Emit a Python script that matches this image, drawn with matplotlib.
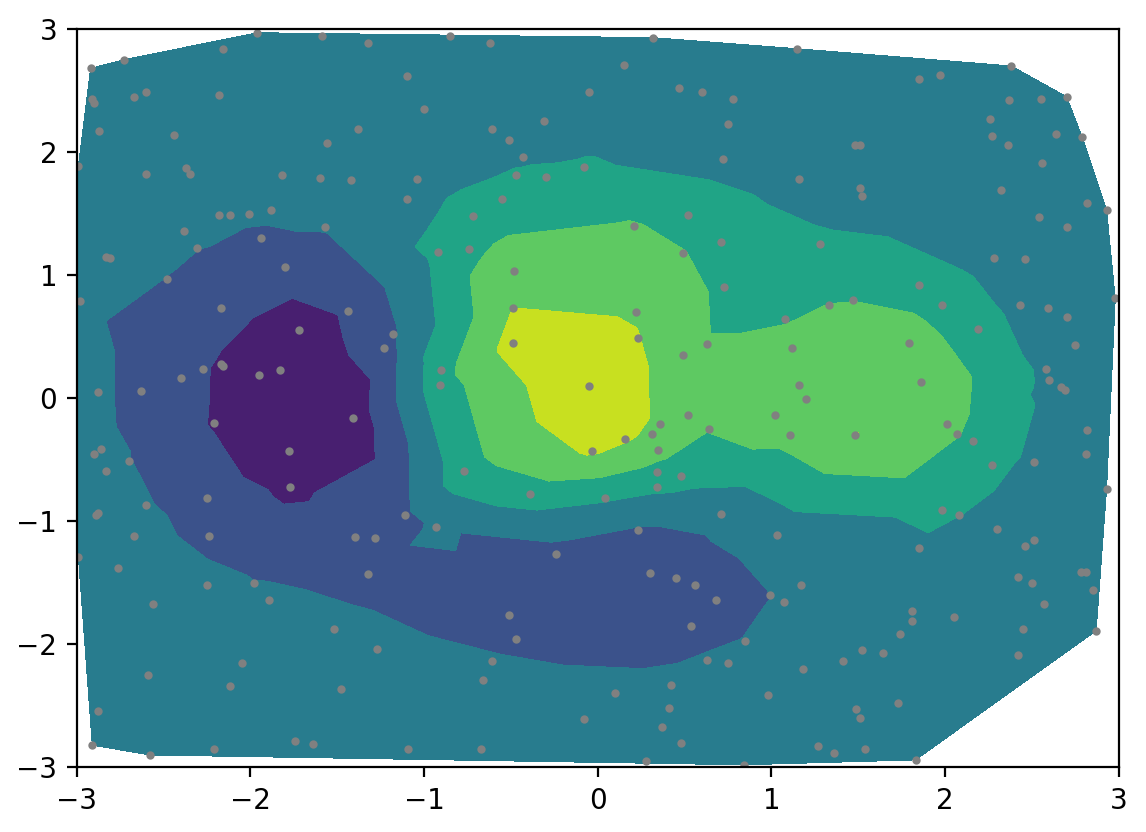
import numpy as np
import matplotlib.pyplot as plt

# scattered sample points and the value estimated at each
x = [-1.96, -1.59, -2.16, -2.73, -2.92, -2.91, -2.90, -2.67, -2.60, -2.18,
     -2.87, -2.44, -1.56, -2.99, -2.60, -2.37, -2.35, -1.82, -1.60, -2.18,
     -2.12, -2.01, -1.88, -1.57, -2.38, -1.94, -2.31, -2.83, -2.81, -1.80,
     -1.32, -0.85, -0.62, -1.10, -0.05, -1.00, -0.31, -1.38, -0.61, -0.51,
     -0.43, -1.42, -1.04, -0.47, -0.30, -0.08, -1.10, -0.55, -0.72, -0.92,
     -0.74, -0.48,
     0.32, 1.15, 0.15, 0.47, 0.60, 0.78, 0.75, 1.48, 1.51, 0.72,
     1.16, 0.52, 0.21, 0.71, 1.28, 0.49,
     2.38, 1.85, 1.97, 2.70, 2.37, 2.55, 2.26, 2.27, 2.36, 2.64,
     2.79, 2.56, 1.51, 1.52, 2.32, 2.82, 2.93, 2.54, 2.70, 2.28, 2.46,
     -2.48, -2.98, -2.17, -1.72, -2.17, -2.16, -2.27, -1.95, -1.83, -2.40,
     -2.63, -2.88, -2.21, -1.78, -2.86, -2.90, -2.70, -2.83, -1.77, -2.25,
     -2.60, -2.89, -2.88,
     -1.44, -0.49, -1.18, -1.23, -0.49, -0.90, -0.91, -0.05, -1.41, -0.03,
     -0.77, -0.39, -1.11, -0.93,
     0.73, 1.33, 1.47, 0.22, 1.08, 0.23, 0.63, 0.49, 1.12, 1.16,
     1.20, 0.52, 1.02, 0.36, 0.31, 0.16, 0.64, 1.11, 1.48, 0.35,
     0.34, 0.48, 0.34, 0.04, 0.71,
     1.85, 1.98, 2.43, 2.59, 2.70, 2.98, 2.19, 1.79, 2.75, 2.58,
     2.60, 2.67, 2.69, 1.86, 2.01, 2.07, 2.16, 2.27, 2.51, 2.82,
     2.81, 2.93, 1.98, 2.08,
     -2.67, -2.24, -2.99, -2.76, -2.25, -1.98, -1.89, -2.56, -1.52, -2.05,
     -2.59, -2.12, -2.88, -2.91, -2.58, -2.21, -1.74, -1.64,
     -1.40, -1.28, -0.24, -1.32, -0.51, -1.27, -0.47, -0.61, -1.48, -0.66,
     -0.08, -1.09, -0.67,
     0.23, 1.03, 0.30, 0.45, 0.56, 1.17, 0.68, 0.99, 1.07, 0.54,
     0.85, 0.63, 0.75, 1.18, 1.41, 0.42, 0.10, 0.98, 0.41, 0.37,
     0.48, 1.27, 1.36, 0.28, 0.84,
     2.30, 2.51, 2.46, 1.85, 2.78, 2.81, 2.42, 2.50, 2.85, 2.57,
     1.81, 1.81, 2.05, 2.87, 2.45, 1.74, 1.52, 1.64, 2.42, 1.73,
     1.49, 1.51, 1.54, 1.83]
y = [2.97, 2.94, 2.84, 2.75, 2.68, 2.43, 2.40, 2.45, 2.49, 2.46,
     2.17, 2.14, 2.07, 1.89, 1.82, 1.87, 1.82, 1.81, 1.79, 1.49,
     1.49, 1.50, 1.53, 1.39, 1.36, 1.30, 1.22, 1.15, 1.14, 1.07,
     2.89, 2.94, 2.89, 2.62, 2.49, 2.35, 2.25, 2.19, 2.19, 2.10,
     1.96, 1.77, 1.78, 1.81, 1.80, 1.88, 1.62, 1.62, 1.48, 1.19,
     1.21, 1.03,
     2.93, 2.84, 2.71, 2.52, 2.49, 2.43, 2.23, 2.06, 2.06, 1.94,
     1.78, 1.49, 1.40, 1.27, 1.25, 1.18,
     2.70, 2.59, 2.63, 2.45, 2.42, 2.43, 2.27, 2.13, 2.06, 2.15,
     2.12, 1.91, 1.71, 1.64, 1.69, 1.59, 1.53, 1.47, 1.39, 1.14, 1.13,
     0.97, 0.79, 0.73, 0.55, 0.28, 0.26, 0.24, 0.19, 0.23, 0.16,
     0.06, 0.05, -0.20, -0.43, -0.41, -0.45, -0.51, -0.59, -0.72, -0.81,
     -0.87, -0.95, -0.93,
     0.71, 0.73, 0.52, 0.41, 0.45, 0.23, 0.11, 0.10, -0.16, -0.43,
     -0.59, -0.78, -0.95, -1.05,
     0.90, 0.76, 0.80, 0.70, 0.64, 0.49, 0.44, 0.35, 0.41, 0.11,
     -0.01, -0.14, -0.14, -0.21, -0.29, -0.33, -0.25, -0.30, -0.30, -0.42,
     -0.60, -0.63, -0.72, -0.81, -0.94,
     0.92, 0.76, 0.76, 0.73, 0.66, 0.81, 0.56, 0.45, 0.43, 0.24,
     0.15, 0.09, 0.07, 0.13, -0.21, -0.29, -0.35, -0.54, -0.52, -0.26,
     -0.45, -0.74, -0.91, -0.95,
     -1.12, -1.12, -1.29, -1.38, -1.52, -1.50, -1.64, -1.67, -1.88, -2.15,
     -2.25, -2.34, -2.54, -2.82, -2.90, -2.85, -2.79, -2.81,
     -1.13, -1.14, -1.27, -1.43, -1.76, -2.04, -1.96, -2.14, -2.36, -2.29,
     -2.61, -2.85, -2.85,
     -1.07, -1.11, -1.42, -1.46, -1.52, -1.52, -1.64, -1.60, -1.66, -1.85,
     -1.97, -2.13, -2.15, -2.20, -2.14, -2.33, -2.40, -2.41, -2.52, -2.67,
     -2.80, -2.83, -2.88, -2.95, -2.98,
     -1.06, -1.15, -1.20, -1.22, -1.41, -1.41, -1.45, -1.50, -1.56, -1.67,
     -1.73, -1.81, -1.78, -1.89, -1.88, -1.92, -2.05, -2.07, -2.09, -2.48,
     -2.53, -2.60, -2.85, -2.94]
z = [0.00, 0.00, 0.00, 0.00, 0.00, 0.00, 0.00, 0.00, 0.00, 0.00,
     0.00, 0.00, 0.00, 0.00, -0.01, -0.01, -0.01, -0.02, -0.01, -0.04,
     -0.05, -0.05, -0.05, -0.06, -0.04, -0.10, -0.07, -0.02, -0.02, -0.20,
     0.00, 0.00, 0.00, 0.01, 0.03, 0.02, 0.07, 0.01, 0.07, 0.10,
     0.16, 0.01, 0.09, 0.22, 0.25, 0.22, 0.09, 0.29, 0.29, 0.26,
     0.39, 0.64,
     0.00, 0.00, 0.01, 0.02, 0.02, 0.02, 0.05, 0.03, 0.03, 0.11,
     0.09, 0.34, 0.49, 0.35, 0.24, 0.48,
     0.00, 0.00, 0.00, 0.00, 0.00, 0.00, 0.00, 0.00, 0.00, 0.00,
     0.00, 0.00, 0.07, 0.09, 0.02, 0.01, 0.00, 0.02, 0.01, 0.10, 0.06,
     -0.08, -0.02, -0.24, -0.50, -0.38, -0.40, -0.32, -0.57, -0.62, -0.24,
     -0.12, -0.05, -0.37, -0.56, -0.05, -0.04, -0.07, -0.04, -0.41, -0.18,
     -0.06, -0.02, -0.02,
     -0.31, 0.74, -0.11, -0.21, 0.84, 0.37, 0.36, 1.01, -0.52, 0.78,
     0.36, 0.33, -0.12, -0.05,
     0.41, 0.47, 0.46, 0.72, 0.45, 0.75, 0.48, 0.58, 0.55, 0.65,
     0.69, 0.58, 0.55, 0.69, 0.69, 0.77, 0.48, 0.56, 0.741, 0.56,
     0.38, 0.29, 0.25, 0.23, 0.00,
     0.32, 0.34, 0.13, 0.08, 0.06, 0.02, 0.30, 0.62, 0.07, 0.14,
     0.13, 0.11, 0.10, 0.69, 0.56, 0.48, 0.39, 0.26, 0.14, 0.06,
     0.05, 0.02, 0.26, 0.20,
     -0.03, -0.11, 0.00, -0.01, -0.04, -0.07, -0.05, -0.01, -0.04, -0.01,
     0.00, 0.00, 0.00, 0.00, 0.00, 0.00, 0.00, 0.00,
     -0.20, -0.17, -0.18, -0.12, -0.15, -0.03, -0.11, -0.06, -0.01, -0.04,
     -0.02, 0.00, 0.00,
     -0.10, 0.03, -0.25, -0.23, -0.20, -0.02, -0.15, -0.08, -0.06, -0.14,
     -0.07, -0.06, -0.05, -0.02, -0.01, -0.04, -0.04, -0.01, -0.02, -0.01,
     -0.01, 0.00, 0.00, 0.00, 0.00,
     0.10, 0.05, 0.05, 0.15, 0.01, 0.01, 0.03, 0.02, 0.01, 0.01,
     0.03, 0.02, 0.02, 0.00, 0.01, 0.01, 0.00, 0.00, 0.00, 0.00,
     0.00, 0.00, 0.00, 0.00]

x = np.array(x)
y = np.array(y)
z = np.array(z)
levels = np.linspace(z.min(), z.max(), 7)

fig = plt.figure(figsize=(5.73, 4.16), dpi=200)
ax = fig.add_axes([0.0669, 0.0778, 0.9093, 0.8873])

ax.plot(x, y, 'o', markersize=2, color='grey', zorder=2)
ax.tricontourf(x, y, z, levels=levels, zorder=1)

ax.set(xlim=(-3, 3), ylim=(-3, 3))

fig.savefig('out.png', dpi=200)
